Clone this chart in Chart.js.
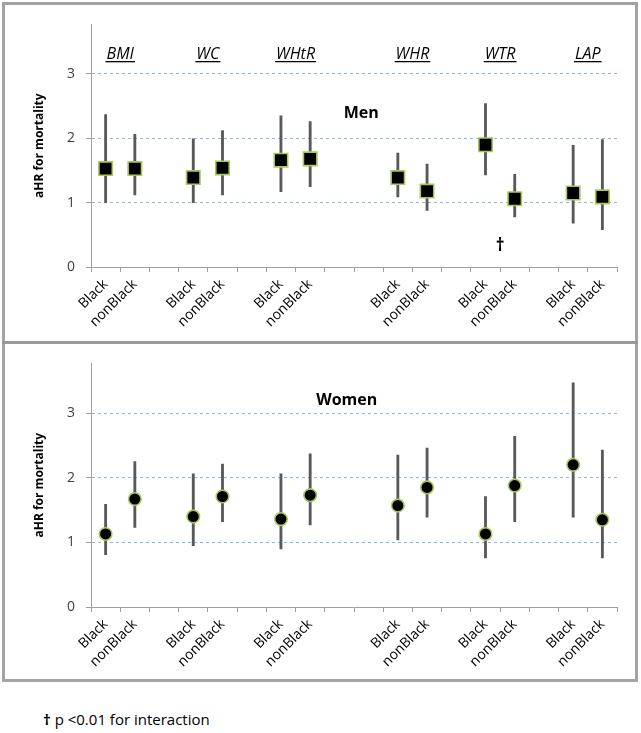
<!DOCTYPE html>
<html>
<head>
<meta charset="utf-8">
<script src="https://cdn.jsdelivr.net/npm/chart.js@4/dist/chart.umd.min.js"></script>
<style>
  html, body { margin: 0; padding: 0; background: #fff; }
  body { width: 641px; height: 733px; position: relative; overflow: hidden; font-family: "Open Sans", sans-serif; }
  #frame { position: absolute; left: 2px; top: 2px; width: 630px; height: 674px; border: 3px solid #a3a3a3; }
  #divider { position: absolute; left: 2px; top: 341px; width: 636px; height: 3px; background: #9a9a9a; }
  .panel { position: absolute; left: 5px; width: 630px; }
  #p1 { top: 5px; height: 336px; }
  #p2 { top: 344px; height: 335px; }
  #foot { position: absolute; left: 43px; top: 709px; font-size: 15px; color: #000; white-space: nowrap; }
  #foot b { font-weight: 700; }
</style>
</head>
<body>
<div id="frame"></div>
<div id="divider"></div>
<div class="panel" id="p1"><canvas id="c1" width="630" height="336"></canvas></div>
<div class="panel" id="p2"><canvas id="c2" width="630" height="335"></canvas></div>
<div id="foot"><b>†</b> p &lt;0.01 for interaction</div>
<script>
// ---- data ----
const categories = ["Black","nonBlack","","Black","nonBlack","","Black","nonBlack","","","Black","nonBlack","","Black","nonBlack","","Black","nonBlack"];
const groups = ["BMI","WC","WHtR","WHR","WTR","LAP"];
const yTicks = [0, 1, 2, 3];

const menHR   = [1.53,1.53,null,1.39,1.54,null,1.66,1.68,null,null,1.39,1.18,null,1.90,1.06,null,1.15,1.09];
const menLow  = [1.00,1.12,null,1.00,1.12,null,1.17,1.25,null,null,1.09,0.88,null,1.43,0.78,null,0.68,0.58];
const menHigh = [2.37,2.06,null,1.99,2.12,null,2.35,2.26,null,null,1.77,1.60,null,2.54,1.44,null,1.89,1.98];

const womenHR   = [1.13,1.67,null,1.40,1.71,null,1.36,1.73,null,null,1.57,1.85,null,1.13,1.88,null,2.20,1.35];
const womenLow  = [0.81,1.23,null,0.95,1.32,null,0.90,1.27,null,null,1.04,1.39,null,0.76,1.32,null,1.39,0.76];
const womenHigh = [1.59,2.25,null,2.06,2.21,null,2.06,2.37,null,null,2.35,2.46,null,1.71,2.64,null,3.47,2.43];

const interactionMark = "†";
const interactionGroup = "WTR";

// ---- helpers ----
const FONT = "'Open Sans', sans-serif";
function ciBars(lo, hi) { return lo.map((l, i) => (l == null ? null : [l, hi[i]])); }
function groupCenters() {
  const out = []; let g = 0;
  categories.forEach((c, i) => { if (c === "Black") { out.push({ name: groups[g++], idx: i + 0.5 }); } });
  return out;
}

const annotate = {
  id: 'annotate',
  afterDatasetsDraw(chart, args, opts) {
    const { ctx, scales: { x, y } } = chart;
    ctx.save();
    ctx.fillStyle = '#000';
    ctx.strokeStyle = '#000';
    if (opts.showGroups) {
      ctx.font = "italic 16px " + FONT;
      ctx.textAlign = 'center';
      ctx.textBaseline = 'alphabetic';
      groupCenters().forEach(g => {
        const px = x.getPixelForValue(g.idx);
        const py = y.getPixelForValue(opts.groupY);
        ctx.fillText(g.name, px, py);
        const w = ctx.measureText(g.name).width;
        ctx.lineWidth = 1.3;
        ctx.beginPath();
        ctx.moveTo(px - w / 2 - 1, py + 2.5);
        ctx.lineTo(px + w / 2 + 1, py + 2.5);
        ctx.stroke();
      });
    }
    ctx.font = "bold 16px " + FONT;
    ctx.textAlign = 'center';
    ctx.textBaseline = 'middle';
    ctx.fillText(opts.title, x.getPixelForValue(opts.titleIdx), y.getPixelForValue(opts.titleY));
    if (opts.showMark) {
      const gc = groupCenters().find(g => g.name === interactionGroup);
      ctx.font = "bold 17px " + FONT;
      ctx.fillText(interactionMark, x.getPixelForValue(gc.idx), y.getPixelForValue(opts.markY));
    }
    ctx.restore();
  }
};

function makeChart(id, hr, lo, hi, style, radius, padTop, xHeight, ann) {
  return new Chart(document.getElementById(id), {
    type: 'bar',
    data: {
      labels: categories,
      datasets: [
        {
          type: 'line',
          data: hr,
          showLine: false,
          pointStyle: style,
          pointRadius: radius,
          pointBackgroundColor: '#000',
          pointBorderColor: '#a8c85c',
          pointBorderWidth: 1.6,
          order: 0
        },
        {
          type: 'bar',
          data: ciBars(lo, hi),
          backgroundColor: '#595959',
          barThickness: 2.2,
          order: 1
        }
      ]
    },
    options: {
      responsive: false,
      animation: false,
      events: [],
      layout: { padding: { top: padTop, right: 18, left: 0, bottom: 0 } },
      plugins: { legend: { display: false }, tooltip: { enabled: false }, annotate: ann },
      scales: {
        x: {
          offset: true,
          grid: { display: true, drawOnChartArea: false, drawTicks: true, tickLength: 5, offset: true, tickColor: '#a0a0a0' },
          border: { color: '#a0a0a0', width: 1 },
          ticks: { autoSkip: false, maxRotation: 45, minRotation: 45, padding: 4, color: '#000', font: { family: FONT, size: 14 } },
          afterFit: s => { s.height = xHeight; }
        },
        y: {
          min: 0,
          max: 3.77,
          afterBuildTicks: s => { s.ticks = yTicks.map(v => ({ value: v })); },
          ticks: { stepSize: 1, includeBounds: false, padding: 11, color: '#404040', font: { family: FONT, size: 14 } },
          grid: {
            color: c => (c.tick && c.tick.value === 0 ? 'rgba(0,0,0,0)' : '#95b5df'),
            tickColor: '#a0a0a0',
            tickLength: 5,
            lineWidth: 1
          },
          border: { color: '#a0a0a0', width: 1, dash: [3, 3] },
          title: { display: true, text: 'aHR for mortality', color: '#000', font: { family: FONT, size: 12, weight: 'bold' }, padding: { top: 27, bottom: 0 } },
          afterFit: s => { s.width = 86; }
        }
      }
    },
    plugins: [annotate]
  });
}

makeChart('c1', menHR, menLow, menHigh, 'rect', 9.5, 17, 74,
  { showGroups: true, groupY: 3.23, title: 'Men', titleIdx: 8.75, titleY: 2.38, showMark: true, markY: 0.33 });
makeChart('c2', womenHR, womenLow, womenHigh, 'circle', 6.3, 18, 72,
  { showGroups: false, title: 'Women', titleIdx: 8.25, titleY: 3.2, showMark: false });
</script>
</body>
</html>
